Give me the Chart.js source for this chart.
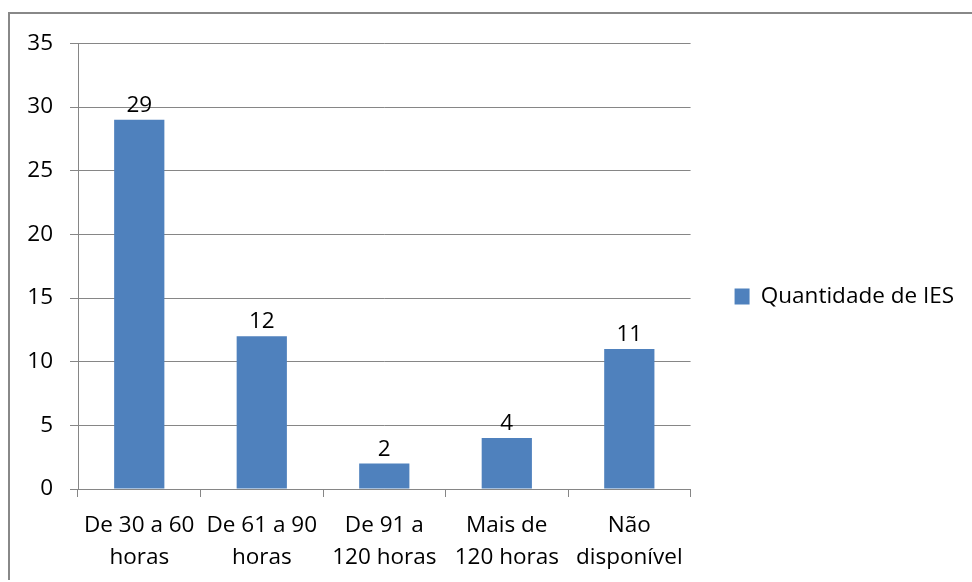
<!DOCTYPE html>
<html>
<head>
<meta charset="utf-8">
<script src="https://cdn.jsdelivr.net/npm/chart.js@4"></script>
<style>
    html, body { margin: 0; padding: 0; background: #fff; }
    #wrap { position: relative; width: 972px; height: 582px; overflow: hidden; }
    #frame { position: absolute; left: 8px; top: 12px; right: -4px; bottom: 2px;
             border-left: 2px solid #888; border-top: 2px solid #888; }
    #grafCanvas { position: absolute; left: 0; top: 0; }
</style>
</head>
<body>
<div id="wrap">
    <div id="frame"></div>
    <canvas id="grafCanvas" width="972" height="582"></canvas>
</div>
<script>
const kategorije = [
    ['De 30 a 60', 'horas'],
    ['De 61 a 90', 'horas'],
    ['De 91 a', '120 horas'],
    ['Mais de', '120 horas'],
    ['Não', 'disponível']
];
const vrijednosti = [29, 12, 2, 4, 11];
const nazivSerije = 'Quantidade de IES';
const yTicks = [0, 5, 10, 15, 20, 25, 30, 35];

const FONT = '"Open Sans", "DejaVu Sans", sans-serif';
const VEL = 22.5;
const SIVA = '#868686';

// ispisuje vrijednost iznad svakog stupca
const oznakePlugin = {
    id: 'oznake',
    afterDatasetsDraw(chart) {
        const ctx = chart.ctx;
        const meta = chart.getDatasetMeta(0);
        ctx.save();
        ctx.font = VEL + 'px ' + FONT;
        ctx.fillStyle = '#000';
        ctx.textAlign = 'center';
        ctx.textBaseline = 'alphabetic';
        meta.data.forEach((bar, i) => {
            ctx.fillText(String(vrijednosti[i]), bar.x, bar.y - 8);
        });
        ctx.restore();
    }
};

const ctx = document.getElementById('grafCanvas').getContext('2d');
const mojGraf = new Chart(ctx, {
    type: 'bar',
    data: {
        labels: kategorije,
        datasets: [{
            label: nazivSerije,
            data: vrijednosti,
            backgroundColor: '#4F81BD',
            borderWidth: 0,
            categoryPercentage: 1,
            barPercentage: 0.41
        }]
    },
    plugins: [oznakePlugin],
    options: {
        responsive: false,
        animation: false,
        layout: { padding: { top: 11, bottom: 0, left: 0, right: 8 } },
        plugins: {
            tooltip: { enabled: false },
            // prazan naslov samo gura podrucje grafa prema dolje
            title: {
                display: true,
                text: ' ',
                fullSize: false,
                font: { size: 12 },
                padding: { top: 0, bottom: 18 }
            },
            legend: {
                position: 'right',
                maxWidth: 290,
                labels: {
                    boxWidth: 15,
                    boxHeight: 16,
                    padding: 10,
                    color: '#000',
                    font: { family: FONT, size: VEL }
                }
            }
        },
        scales: {
            x: {
                afterFit: s => { s.height = 93; },
                grid: {
                    drawOnChartArea: false,
                    tickLength: 8,
                    color: SIVA
                },
                border: { color: SIVA, width: 1 },
                ticks: {
                    color: '#000',
                    padding: 13,
                    maxRotation: 0,
                    autoSkip: false,
                    font: { family: FONT, size: VEL, lineHeight: 1.42 }
                }
            },
            y: {
                min: 0,
                max: 35,
                afterFit: s => { s.width = 78; },
                afterBuildTicks: s => { s.ticks = yTicks.map(v => ({ value: v })); },
                grid: { color: SIVA, tickLength: 8 },
                border: { color: SIVA, width: 1 },
                ticks: {
                    color: '#000',
                    padding: 17,
                    font: { family: FONT, size: VEL }
                }
            },
            razmak: {
                position: 'right',
                afterFit: s => { s.width = 34; },
                grid: { display: false },
                border: { display: false },
                ticks: { display: false }
            }
        }
    }
});
</script>
</body>
</html>
